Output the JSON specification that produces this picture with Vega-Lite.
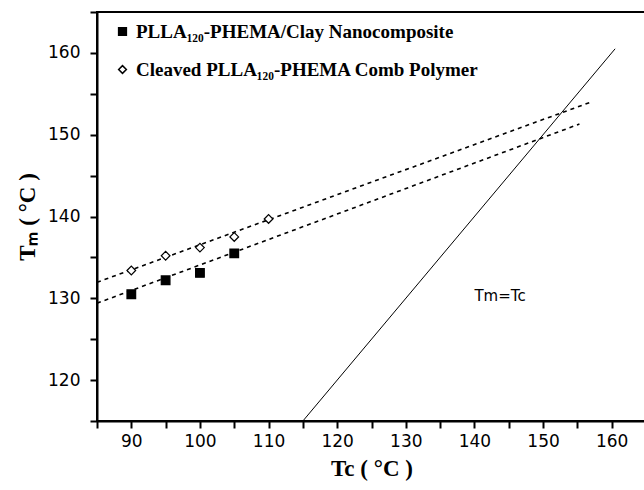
{
  "$schema": "https://vega.github.io/schema/vega-lite/v6.json",
  "width": 549,
  "height": 409,
  "autosize": {"type": "none"},
  "padding": {"left": 97, "top": 12, "right": 0, "bottom": 69},
  "background": "white",
  "config": {
    "view": {"stroke": "black", "strokeWidth": 2},
    "axis": {
      "domainColor": "black",
      "domainWidth": 2,
      "labelColor": "black",
      "labelFont": "DejaVu Sans",
      "labelFontSize": 17,
      "titleColor": "black",
      "titleFont": "Liberation Serif",
      "titleFontWeight": "bold",
      "titleFontSize": 23,
      "grid": false
    },
    "legend": {
      "orient": "none",
      "legendX": 16,
      "legendY": 10,
      "padding": 0,
      "rowPadding": 18,
      "symbolSize": 60,
      "labelFont": "Liberation Serif",
      "labelFontWeight": "bold",
      "labelFontSize": 19,
      "labelColor": "black",
      "labelOffset": 4,
      "labelLimit": 500
    }
  },
  "datasets": {
    "points": [
      {"series": "PLLA₁₂₀-PHEMA/Clay Nanocomposite", "Tc": 90, "Tm": 130.5},
      {"series": "PLLA₁₂₀-PHEMA/Clay Nanocomposite", "Tc": 95, "Tm": 132.2},
      {"series": "PLLA₁₂₀-PHEMA/Clay Nanocomposite", "Tc": 100, "Tm": 133.1},
      {"series": "PLLA₁₂₀-PHEMA/Clay Nanocomposite", "Tc": 105, "Tm": 135.5},
      {"series": "Cleaved PLLA₁₂₀-PHEMA Comb Polymer", "Tc": 90, "Tm": 133.4},
      {"series": "Cleaved PLLA₁₂₀-PHEMA Comb Polymer", "Tc": 95, "Tm": 135.2},
      {"series": "Cleaved PLLA₁₂₀-PHEMA Comb Polymer", "Tc": 100, "Tm": 136.2},
      {"series": "Cleaved PLLA₁₂₀-PHEMA Comb Polymer", "Tc": 105, "Tm": 137.5},
      {"series": "Cleaved PLLA₁₂₀-PHEMA Comb Polymer", "Tc": 110, "Tm": 139.7}
    ],
    "fits": [
      {"fit": "nano", "Tc": 85, "Tm": 129.4},
      {"fit": "nano", "Tc": 155.3, "Tm": 151.3},
      {"fit": "comb", "Tc": 85, "Tm": 131.95},
      {"fit": "comb", "Tc": 157, "Tm": 154.0}
    ],
    "diag": [
      {"Tc": 115, "Tm": 115},
      {"Tc": 160.5, "Tm": 160.5}
    ],
    "note": [
      {"Tc": 140, "Tm": 130.3, "label": "Tm=Tc"}
    ]
  },
  "encoding": {
    "x": {
      "field": "Tc",
      "type": "quantitative",
      "scale": {"domain": [85, 165], "nice": false, "zero": false},
      "axis": {
        "title": "Tc ( °C )",
        "values": [85, 90, 95, 100, 105, 110, 115, 120, 125, 130, 135, 140, 145, 150, 155, 160, 165],
        "labelExpr": "datum.value % 10 === 0 ? datum.label : ''",
        "ticks": true,
        "tickColor": "black",
        "tickWidth": 2,
        "tickSize": 7,
        "labelPadding": 5,
        "titlePadding": 8,
        "labelFlush": false,
        "labelOverlap": false
      }
    },
    "y": {
      "field": "Tm",
      "type": "quantitative",
      "scale": {"domain": [115, 165], "nice": false, "zero": false},
      "axis": {
        "title": "Tₘ ( °C )",
        "values": [115, 120, 125, 130, 135, 140, 145, 150, 155, 160, 165],
        "labelExpr": "datum.value % 10 === 0 ? datum.label : ''",
        "ticks": true,
        "tickColor": "black",
        "tickWidth": 2,
        "tickSize": 7,
        "labelPadding": 10,
        "titlePadding": 8,
        "labelFlush": false,
        "labelOverlap": false
      }
    }
  },
  "layer": [
    {
      "data": {"name": "fits"},
      "mark": {"type": "line", "color": "black", "strokeWidth": 1.6, "strokeDash": [4, 4], "clip": true},
      "encoding": {"detail": {"field": "fit"}}
    },
    {
      "data": {"name": "diag"},
      "mark": {"type": "line", "color": "black", "strokeWidth": 1, "clip": true},
      "encoding": {}
    },
    {
      "data": {"name": "points"},
      "mark": {"type": "point", "stroke": "black", "strokeWidth": 1.2, "opacity": 1},
      "encoding": {
        "shape": {
          "field": "series",
          "type": "nominal",
          "scale": {"domain": ["PLLA₁₂₀-PHEMA/Clay Nanocomposite", "Cleaved PLLA₁₂₀-PHEMA Comb Polymer"], "range": ["square", "diamond"]},
          "legend": {"title": null, "encode": {"symbols": {"update": {"stroke": {"value": "black"}, "strokeWidth": {"value": 1.2}, "opacity": {"value": 1}}}}}
        },
        "fill": {
          "field": "series",
          "type": "nominal",
          "scale": {"domain": ["PLLA₁₂₀-PHEMA/Clay Nanocomposite", "Cleaved PLLA₁₂₀-PHEMA Comb Polymer"], "range": ["black", "white"]},
          "legend": {"title": null, "encode": {"symbols": {"update": {"stroke": {"value": "black"}, "strokeWidth": {"value": 1.2}, "opacity": {"value": 1}}}}}
        },
        "size": {"value": 75}
      }
    },
    {
      "data": {"name": "note"},
      "mark": {"type": "text", "font": "DejaVu Sans", "fontSize": 15, "align": "left", "baseline": "middle", "color": "black"},
      "encoding": {"text": {"field": "label"}}
    }
  ]
}
